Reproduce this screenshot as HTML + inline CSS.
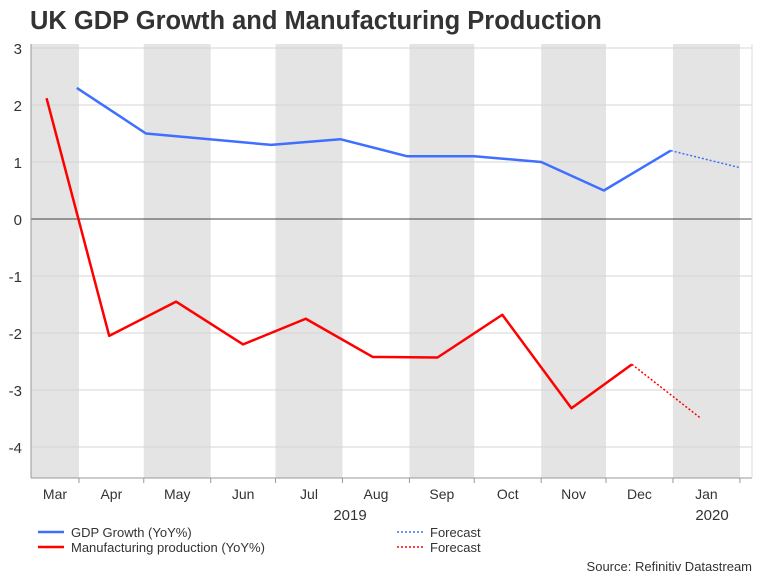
<!DOCTYPE html>
<html><head><meta charset="utf-8"><style>
body{margin:0;background:#fff;font-family:"Liberation Sans",sans-serif;}
svg text{font-family:"Liberation Sans",sans-serif;fill:#333;}
</style></head><body>
<svg id="c" width="768" height="576" xmlns="http://www.w3.org/2000/svg">
<text x="30" y="29" font-size="25.5" font-weight="bold" fill="#333">UK GDP Growth and Manufacturing Production</text>
</svg>
<script>
const gdpDates=['2019-03-31','2019-05-02','2019-06-29','2019-07-31','2019-08-31','2019-10-01','2019-11-01','2019-11-30','2019-12-31'];
const gdpValues=[2.3,1.5,1.3,1.4,1.1,1.1,1.0,0.5,1.2];
const gdpFcDates=['2019-12-31','2020-02-01'];
const gdpFcValues=[1.2,0.9];
const mfgDates=['2019-03-17','2019-04-15','2019-05-16','2019-06-16','2019-07-15','2019-08-15','2019-09-14','2019-10-14','2019-11-15','2019-12-13'];
const mfgValues=[2.12,-2.05,-1.45,-2.2,-1.75,-2.42,-2.43,-1.68,-3.32,-2.55];
const mfgFcDates=['2019-12-13','2020-01-14'];
const mfgFcValues=[-2.55,-3.5];
const monthStarts=['2019-04-01','2019-05-01','2019-06-01','2019-07-01','2019-08-01','2019-09-01','2019-10-01','2019-11-01','2019-12-01','2020-01-01','2020-02-01'];
const monthLabels=['Mar','Apr','May','Jun','Jul','Aug','Sep','Oct','Nov','Dec','Jan'];
const yTicks=[3,2,1,0,-1,-2,-3,-4];

const svg=document.getElementById('c');const NS='http://www.w3.org/2000/svg';
const L=31,R=752,T=48,B=478;
const base=Date.UTC(2019,2,1);
function day(s){const p=s.split('-');return (Date.UTC(+p[0],+p[1]-1,+p[2])-base)/864e5;}
function xs(s){return 12+day(s)*2.16;}
function ys(v){return 219-v*57;}
function mk(tag,a,parent){const e=document.createElementNS(NS,tag);for(const k in a)e.setAttribute(k,a[k]);(parent||svg).appendChild(e);return e;}
const bounds=[L].concat(monthStarts.map(xs));
for(let i=0;i<bounds.length-1;i+=2){
 const r=mk('rect',{x:bounds[i],y:T-4,width:Math.min(bounds[i+1],R)-bounds[i],height:B-T+4,fill:'#e4e4e4'});
 
 
}
yTicks.forEach(v=>{
 const g=mk('line',{x1:L,x2:R,y1:ys(v),y2:ys(v),stroke:v===0?'#444':'#d4d4d4','stroke-width':1});
 
 
 const t=mk('text',{x:22,y:ys(v)+6,'text-anchor':'end','font-size':15});t.textContent=v;
 
 
});
mk('line',{x1:L,x2:L,y1:T-4,y2:B,stroke:'#999'});
mk('line',{x1:L,x2:R,y1:B,y2:B,stroke:'#999'});
mk('line',{x1:R,x2:R,y1:T-4,y2:B,stroke:'#ddd'});
monthStarts.forEach(s=>{mk('line',{x1:xs(s),x2:xs(s),y1:B,y2:B+5,stroke:'#999'});});
for(let i=0;i<monthLabels.length;i++){
 const t=mk('text',{x:(bounds[i]+Math.min(bounds[i+1],R))/2,y:499,'text-anchor':'middle','font-size':14});t.textContent=monthLabels[i];
 
 
}
[['2019',350],['2020',712]].forEach(a=>{const t=mk('text',{x:a[1],y:520,'text-anchor':'middle','font-size':15});t.textContent=a[0];
 
 });
function line(d,v,col,dash,name){
 const p=mk('polyline',{points:d.map((s,i)=>xs(s)+','+ys(v[i])).join(' '),fill:'none',stroke:col,'stroke-width':dash?1.5:2.5,'stroke-dasharray':dash?'2,2':'none','stroke-linejoin':'round'});
 
 
}
line(gdpDates,gdpValues,'#3f6fff',false,'gdp-line');
line(gdpFcDates,gdpFcValues,'#3f6fff',true,'gdp-forecast-line');
line(mfgDates,mfgValues,'#ff0000',false,'manufacturing-line');
line(mfgFcDates,mfgFcValues,'#ff0000',true,'manufacturing-forecast-line');
function leg(x,y,col,dash,txt,name){
 mk('line',{x1:x,x2:x+26,y1:y,y2:y,stroke:col,'stroke-width':dash?1.5:2.5,'stroke-dasharray':dash?'2,2':'none'});
 const t=mk('text',{x:x+33,y:y+5,'font-size':13,fill:'#444'});t.textContent=txt;
 
 
}
leg(38,532,'#3f6fff',false,'GDP Growth (YoY%)','legend-gdp');
leg(38,547,'#ff0000',false,'Manufacturing production (YoY%)','legend-manufacturing');
leg(397,532,'#3f6fff',true,'Forecast','legend-gdp-forecast');
leg(397,547,'#ff0000',true,'Forecast','legend-manufacturing-forecast');
const s=mk('text',{x:752,y:571,'text-anchor':'end','font-size':13,fill:'#444'});s.textContent='Source: Refinitiv Datastream';


</script>
</body></html>
